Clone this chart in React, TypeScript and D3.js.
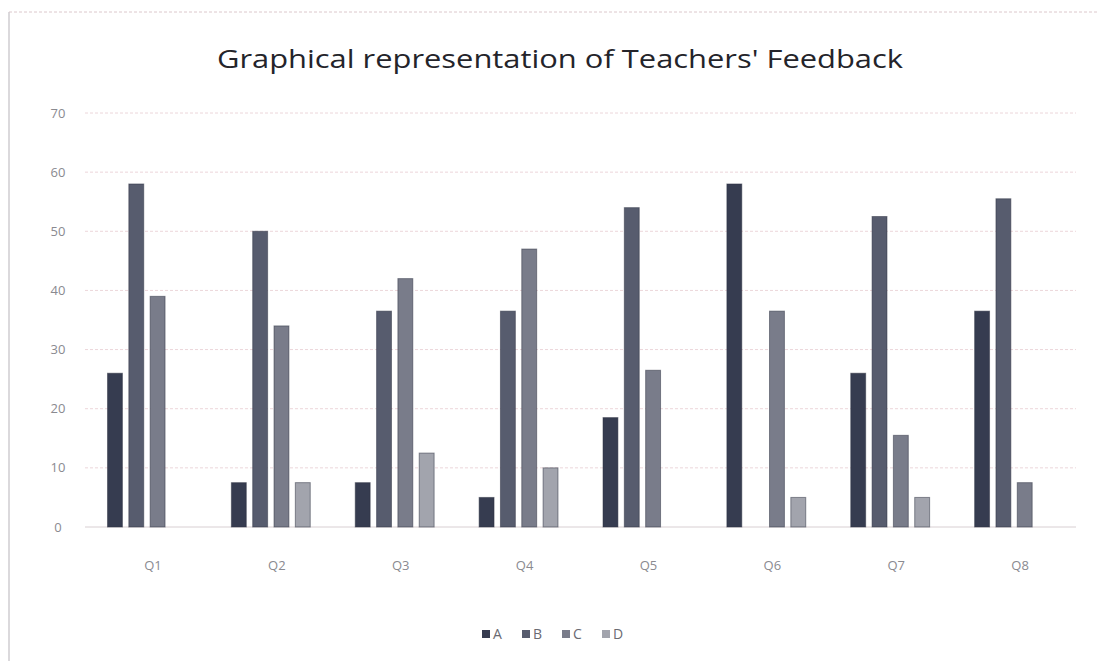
import React from 'react'
import * as d3 from 'd3'

// values
const questions = ['Q1', 'Q2', 'Q3', 'Q4', 'Q5', 'Q6', 'Q7', 'Q8']
const seriesNames = ['A', 'B', 'C', 'D']
const valuesA = [26, 7.5, 7.5, 5, 18.5, 58, 26, 36.5]
const valuesB = [58, 50, 36.5, 36.5, 54, 0, 52.5, 55.5]
const valuesC = [39, 34, 42, 47, 26.5, 36.5, 15.5, 7.5]
const valuesD = [0, 7.5, 12.5, 10, 0, 5, 5, 0]
const yTicks = [0, 10, 20, 30, 40, 50, 60, 70]
const colors = ['#363c50', '#575c6e', '#797c8a', '#a2a4ad']

const W = 1098
const H = 661
const margin = { top: 113, right: 22, bottom: 134, left: 85 }

export default function App () {
  const series = [valuesA, valuesB, valuesC, valuesD]

  const x0 = d3.scaleBand()
    .domain(questions)
    .range([margin.left, W - margin.right])
    .paddingInner(0.26)
    .paddingOuter(0.13)

  const x1 = d3.scaleBand()
    .domain(seriesNames)
    .range([0, x0.bandwidth()])
    .padding(0.3)

  const y = d3.scaleLinear()
    .domain([0, 70])
    .range([H - margin.bottom, margin.top])

  const legendX = d3.scaleBand()
    .domain(seriesNames)
    .range([482, 642])

  return (
    <svg width={W} height={H} style={{ position: 'absolute', left: 0, top: 0, background: '#ffffff' }}
      fontFamily="'Open Sans', sans-serif">
      {/* edges of the photographed sheet */}
      <line x1={9} x2={9} y1={12} y2={H} stroke="#cfcdd0" strokeWidth={1.5} />
      <line x1={9} x2={W} y1={12} y2={12} stroke="#dcc8cc" strokeWidth={1} strokeDasharray="3 2" />

      <text x={560} y={68} textAnchor="middle" fontSize={26} fill="#24242a"
        textLength={686} lengthAdjust="spacingAndGlyphs">
        Graphical representation of Teachers' Feedback
      </text>

      {/* grid + y labels */}
      {yTicks.map(t => (
        <g key={t}>
          <line x1={margin.left} x2={W - margin.right} y1={y(t)} y2={y(t)}
            stroke={t === 0 ? '#d8cfd2' : '#ecd6da'} strokeWidth={1} strokeDasharray={t === 0 ? '' : '3 2'} />
          <text x={58} y={y(t)} dy="0.35em" textAnchor="middle" fontSize={13} fill="#8a8a90">{t}</text>
        </g>
      ))}

      {/* bars */}
      {questions.map((q, qi) => (
        <g key={q} transform={`translate(${x0(q)},0)`}>
          {seriesNames.map((s, si) => {
            const v = series[si][qi]
            if (!v) return null
            return (
              <rect key={s} x={x1(s)} y={y(v)} width={x1.bandwidth()} height={y(0) - y(v)}
                fill={colors[si]} stroke="#2c3040" strokeOpacity={0.5} strokeWidth={1} />
            )
          })}
          <text x={x0.bandwidth() / 2 + 6} y={570} textAnchor="middle" fontSize={13} fill="#8a8a90">{q}</text>
        </g>
      ))}

      {/* legend */}
      {seriesNames.map((s, si) => (
        <g key={s} transform={`translate(${legendX(s)},634)`}>
          <rect x={0} y={-4} width={8} height={8} fill={colors[si]} />
          <text x={11} y={0} dy="0.35em" fontSize={14} fill="#6a6a72">{s}</text>
        </g>
      ))}
    </svg>
  )
}
